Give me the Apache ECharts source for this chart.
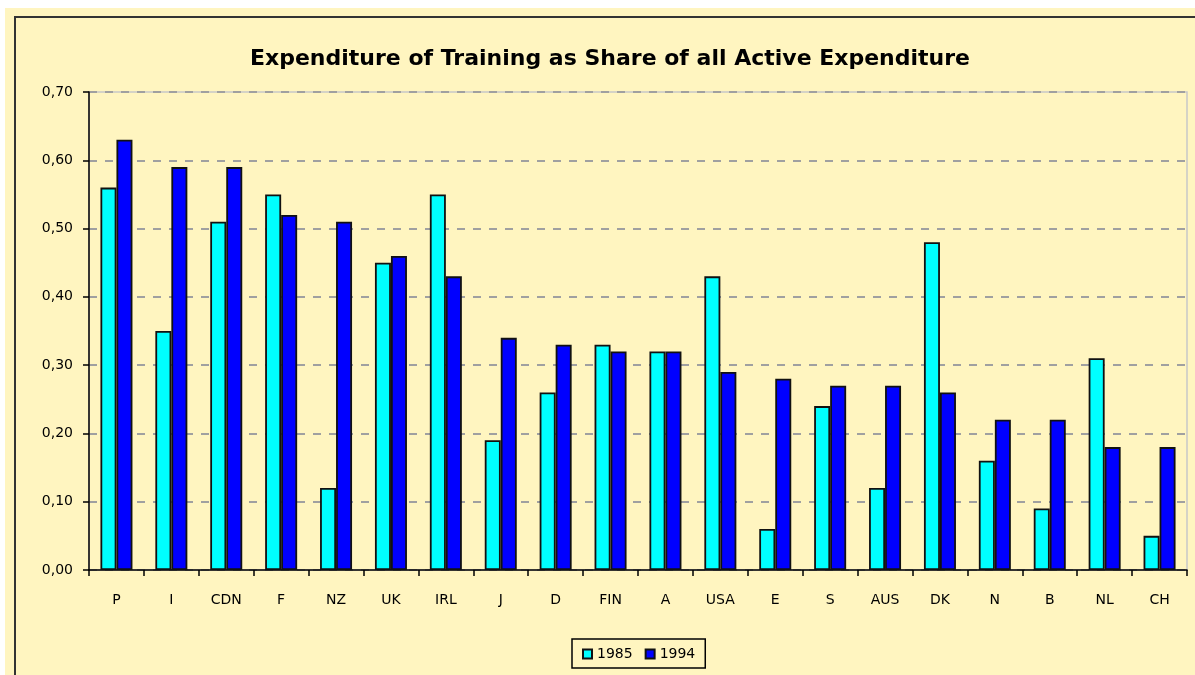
<!DOCTYPE html>
<html><head><meta charset="utf-8">
<script src="https://cdn.jsdelivr.net/npm/echarts@6/dist/echarts.min.js"></script>
<style>html,body{margin:0;padding:0;background:#fff}#c{width:1195px;height:675px}</style>
</head><body><div id="c"></div>
<script>
const categories = ['P','I','CDN','F','NZ','UK','IRL','J','D','FIN','A','USA','E','S','AUS','DK','N','B','NL','CH'];
const values1985 = [0.56,0.35,0.51,0.55,0.12,0.45,0.55,0.19,0.26,0.33,0.32,0.43,0.06,0.24,0.12,0.48,0.16,0.09,0.31,0.05];
const values1994 = [0.63,0.59,0.59,0.52,0.51,0.46,0.43,0.34,0.33,0.32,0.32,0.29,0.28,0.27,0.27,0.26,0.22,0.22,0.18,0.18];
const seriesNames = ['1985','1994'];
const titleText = 'Expenditure of Training as Share of all Active Expenditure';

const chart = echarts.init(document.getElementById('c'), null, {renderer:'canvas'});
const font = 'DejaVu Sans, Verdana, sans-serif';
chart.setOption({
  backgroundColor:'#ffffff',
  animation:false,
  graphic:[
    {type:'rect', z:-11, shape:{x:5,y:8,width:1200,height:680}, style:{fill:'#FFF5C0'}},
    {type:'rect', z:-10, shape:{x:15,y:17,width:1200,height:680}, style:{fill:'#FFF5C0', stroke:'#333', lineWidth:2}}
  ],
  title:{text:titleText, left:605, textAlign:'center', top:43, textStyle:{fontFamily:font, fontSize:22, fontWeight:'bold', color:'#000'}},
  legend:{bottom:7, left:572, data:seriesNames, itemWidth:9, itemHeight:9, itemGap:12, borderColor:'#000', borderWidth:1.5, padding:[8,10,7,10], textStyle:{fontFamily:font, fontSize:14, color:'#000'}, icon:'rect'},
  grid:{left:89, right:8, top:92, bottom:105, show:true, borderColor:'#c8c8c8', borderWidth:1.5, backgroundColor:'transparent'},
  xAxis:{type:'category', data:categories,
    axisLine:{lineStyle:{color:'#000', width:1.5}},
    axisTick:{show:true, alignWithLabel:false, length:6, lineStyle:{color:'#000', width:1.5}},
    axisLabel:{fontFamily:font, fontSize:14, color:'#000', margin:23}},
  yAxis:{type:'value', min:0, max:0.7, interval:0.1,
    axisLine:{show:true, lineStyle:{color:'#000', width:1.5}},
    axisTick:{show:true, length:6, lineStyle:{color:'#000', width:1.5}},
    axisLabel:{fontFamily:font, fontSize:14, color:'#000', margin:16, formatter:v=>v.toFixed(2).replace('.',',')},
    splitLine:{show:true, lineStyle:{color:'#a0a0a0', width:2, type:[8,8]}}},
  series:[
    {name:seriesNames[0], type:'bar', data:values1985, barWidth:16, barGap:'0%', itemStyle:{color:'#00FFFF', borderColor:'#111', borderWidth:1.8}},
    {name:seriesNames[1], type:'bar', data:values1994, barWidth:16, barGap:'0%', itemStyle:{color:'#0000FF', borderColor:'#111', borderWidth:1.8}}
  ]
});
</script></body></html>
